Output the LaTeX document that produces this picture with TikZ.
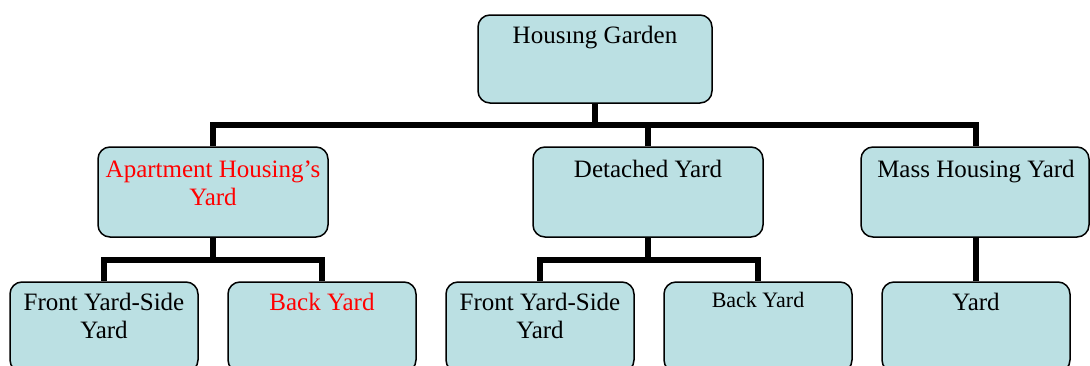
\documentclass[tikz,border=0pt]{standalone}
\usepackage{fontspec}
\setmainfont{Liberation Serif}
\definecolor{boxfill}{RGB}{187,224,227}
\definecolor{redtxt}{RGB}{255,0,0}
\tikzset{
  box/.style={draw=black, line width=1.5pt, rounded corners=12pt, fill=boxfill, inner sep=0pt},
  bigbox/.style={box, minimum width=230pt, minimum height=90pt},
  smallbox/.style={box, minimum width=188pt, minimum height=90pt},
  txt/.style={font=\fontsize{25}{28.5}\selectfont, align=center, inner sep=0pt, anchor=base},
  conn/.style={line width=6pt, line join=miter, draw=black},
}
\begin{document}
\begin{tikzpicture}[x=1pt,y=-1pt]
\useasboundingbox (0,0) rectangle (1090,365);
\clip (0,0) rectangle (1090,365);
\fill[white] (0,0) rectangle (1090,365);

% box centres
\coordinate (cTop) at (595,59);
\coordinate (cApt) at (213,192);
\coordinate (cDet) at (648,192);
\coordinate (cMas) at (975,192);
\coordinate (cF1) at (104,327);
\coordinate (cB1) at (322,327);
\coordinate (cF2) at (540,327);
\coordinate (cB2) at (758,327);
\coordinate (cY) at (976,327);

% invisible anchors for connectors
\node[box, minimum width=234pt, minimum height=88pt, draw=none, fill=none] (top) at (cTop) {};
\node[bigbox, draw=none, fill=none] (apt) at (cApt) {};
\node[bigbox, draw=none, fill=none] (det) at (cDet) {};
\node[box, minimum width=228pt, minimum height=90pt, draw=none, fill=none] (mas) at (cMas) {};
\node[smallbox, draw=none, fill=none] (f1) at (cF1) {};
\node[smallbox, draw=none, fill=none] (b1) at (cB1) {};
\node[smallbox, draw=none, fill=none] (f2) at (cF2) {};
\node[smallbox, draw=none, fill=none] (b2) at (cB2) {};
\node[smallbox, draw=none, fill=none] (y) at (cY) {};

% connectors
\draw[conn] (top.south) -- (top.south |- 0,125) -| (apt.north);
\draw[conn] (top.south |- 0,125) -| ([xshift=1pt]mas.north);
\draw[conn] (det.north) -- (det.north |- 0,125);
\draw[conn] (apt.south) -- (apt.south |- 0,260) -| (f1.north);
\draw[conn] (apt.south |- 0,260) -| (b1.north);
\draw[conn] (det.south) -- (det.south |- 0,260) -| (f2.north);
\draw[conn] (det.south |- 0,260) -| (b2.north);
\draw[conn] ([xshift=1pt]mas.south) -- (y.north);

% visible boxes
\node[box, minimum width=234pt, minimum height=88pt] (topB) at (cTop) {};
\node[bigbox] (aptB) at (cApt) {};
\node[bigbox] (detB) at (cDet) {};
\node[box, minimum width=228pt, minimum height=90pt] (masB) at (cMas) {};
\node[smallbox] (f1B) at (cF1) {};
\node[smallbox] (b1B) at (cB1) {};
\node[smallbox] (f2B) at (cF2) {};
\node[smallbox] (b2B) at (cB2) {};
\node[smallbox] (yB) at (cY) {};

% texts (base = baseline of last line)
\node[txt] (tTop) at (595,43) {Housıng Garden};
\node[txt, text=redtxt] (tApt) at (213,205.5) {Apartment Housing’s\\Yard};
\node[txt] (tDet) at (648,177) {Detached Yard};
\node[txt] (tMas) at (976,177) {Mass Housing Yard};
\node[txt] (tF1) at (104,338.5) {Front Yard-Side\\Yard};
\node[txt, text=redtxt] (tB1) at (322,310) {Back Yard};
\node[txt] (tF2) at (540,338.5) {Front Yard-Side\\Yard};
\node[txt, font=\fontsize{22}{26}\selectfont] (tB2) at (758,307) {Back Yard};
\node[txt] (tY) at (976,310) {Yard};
\end{tikzpicture}
\end{document}
